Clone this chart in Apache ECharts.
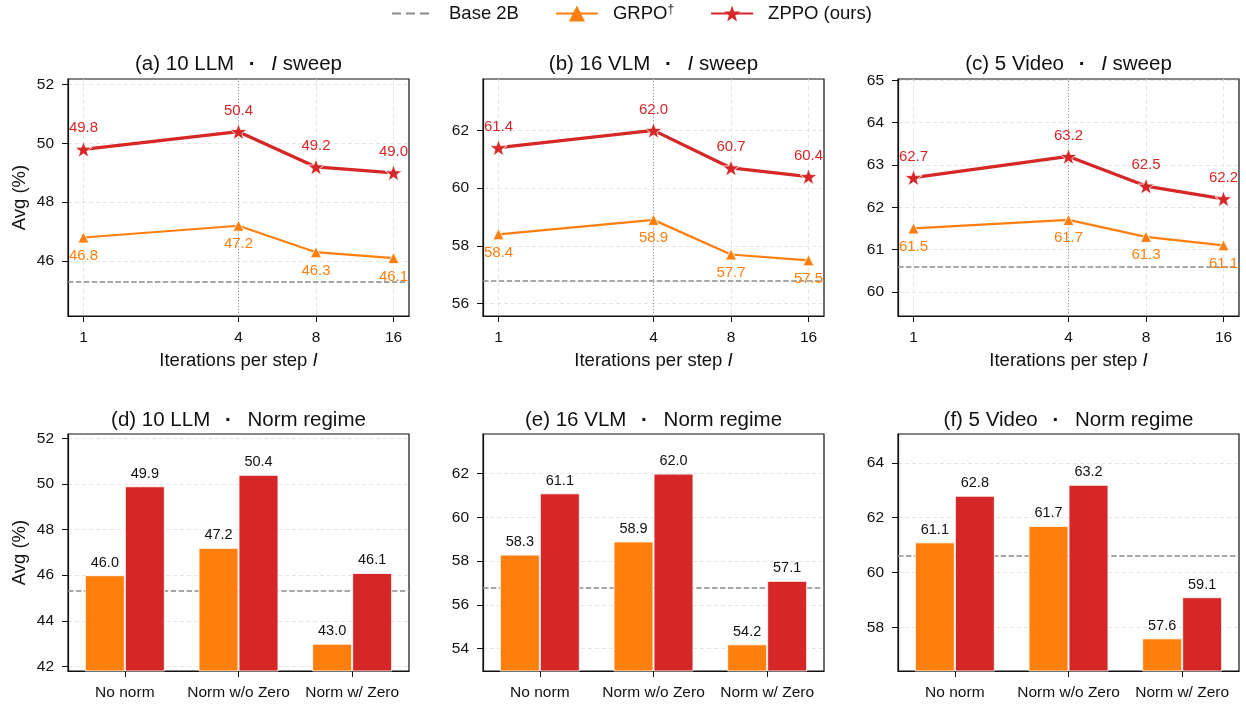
<!DOCTYPE html>
<html><head><meta charset="utf-8">
<script src="https://cdn.jsdelivr.net/npm/echarts@6/dist/echarts.min.js"></script>
<style>html,body{margin:0;padding:0;background:#fff}#c{width:1246px;height:704px}</style>
</head><body><div id="c"></div>
<script>
// ---------------- data ----------------
const iters = [1, 4, 8, 16];
const regimes = ['No norm', 'Norm w/o Zero', 'Norm w/ Zero'];

const sweepGrpoLLM = [46.8, 47.2, 46.3, 46.1];
const sweepZppoLLM = [49.8, 50.4, 49.2, 49.0];
const sweepGrpoVLM = [58.4, 58.9, 57.7, 57.5];
const sweepZppoVLM = [61.4, 62.0, 60.7, 60.4];
const sweepGrpoVideo = [61.5, 61.7, 61.3, 61.1];
const sweepZppoVideo = [62.7, 63.2, 62.5, 62.2];

const normGrpoLLM = [46.0, 47.2, 43.0];
const normZppoLLM = [49.9, 50.4, 46.1];
const normGrpoVLM = [58.3, 58.9, 54.2];
const normZppoVLM = [61.1, 62.0, 57.1];
const normGrpoVideo = [61.1, 61.7, 57.6];
const normZppoVideo = [62.8, 63.2, 59.1];

const baseLLM = 45.3;
const baseVLM = 56.8;
const baseVideo = 60.6;

const yTicksA = [46, 48, 50, 52];
const yTicksB = [56, 58, 60, 62];
const yTicksC = [60, 61, 62, 63, 64, 65];
const yTicksD = [42, 44, 46, 48, 50, 52];
const yTicksE = [54, 56, 58, 60, 62];
const yTicksF = [58, 60, 62, 64];

// ---------------- styling / layout ----------------
const FONT = 'Liberation Sans, Arial, sans-serif';
const RED = '#d62728', ORANGE = '#ff7f0e', GRAY = '#8c8c8c', INK = '#111';
const STAR = 'path://M0,-10L2.35,-3.24L9.51,-3.09L3.8,1.24L5.88,8.09L0,4.05L-5.88,8.09L-3.8,1.24L-9.51,-3.09L-2.35,-3.24Z';

const lefts = [68, 483, 898];
const W = 341, H = 237;
const tops = [79, 434];

const panels = [
  {pre: '(a) 10 LLM', post: '{i|I} sweep', kind: 'line', g: sweepGrpoLLM, z: sweepZppoLLM, base: baseLLM, y: [44.13, 52.19], ticks: yTicksA},
  {pre: '(b) 16 VLM', post: '{i|I} sweep', kind: 'line', g: sweepGrpoVLM, z: sweepZppoVLM, base: baseVLM, y: [55.57, 63.78], ticks: yTicksB},
  {pre: '(c) 5 Video', post: '{i|I} sweep', kind: 'line', g: sweepGrpoVideo, z: sweepZppoVideo, base: baseVideo, y: [59.43, 65.03], ticks: yTicksC},
  {pre: '(d) 10 LLM', post: 'Norm regime', kind: 'bar', g: normGrpoLLM, z: normZppoLLM, base: baseLLM, y: [41.8, 52.19], ticks: yTicksD},
  {pre: '(e) 16 VLM', post: 'Norm regime', kind: 'bar', g: normGrpoVLM, z: normZppoVLM, base: baseVLM, y: [52.98, 63.81], ticks: yTicksE},
  {pre: '(f) 5 Video', post: 'Norm regime', kind: 'bar', g: normGrpoVideo, z: normZppoVideo, base: baseVideo, y: [56.41, 65.05], ticks: yTicksF}
];

const grids = [], xAxes = [], yAxes = [], series = [], graphics = [];
const gridLine = {show: true, lineStyle: {color: '#e0e0e0', width: 0.8, type: [4, 3]}};
const tickStyle = {color: INK, width: 1};

panels.forEach((p, i) => {
  const row = i < 3 ? 0 : 1, col = i % 3;
  const left = lefts[col], top = tops[row];
  grids.push({left: left, top: top, width: W, height: H, show: true, borderColor: INK, borderWidth: 1.2, backgroundColor: 'transparent', containLabel: false});

  if (p.kind === 'line') {
    xAxes.push({
      type: 'log', logBase: 2, gridIndex: i, min: Math.pow(2, -0.2), max: Math.pow(2, 4.2),
      axisLine: {show: true, lineStyle: {color: INK, width: 1.2}},
      axisTick: {show: true, length: 6, lineStyle: tickStyle, customValues: iters},
      axisLabel: {show: true, customValues: iters, fontSize: 15.5, color: INK, fontFamily: FONT, margin: 14, formatter: v => String(Math.round(v))},
      splitLine: gridLine, minorTick: {show: false}, minorSplitLine: {show: false}
    });
  } else {
    xAxes.push({
      type: 'category', gridIndex: i, data: regimes,
      axisLine: {show: true, lineStyle: {color: INK, width: 1.2}},
      axisTick: {show: true, length: 6, alignWithLabel: true, lineStyle: tickStyle},
      axisLabel: {fontSize: 15.5, color: INK, fontFamily: FONT, margin: 14, interval: 0},
      splitLine: {show: false}
    });
  }
  yAxes.push({
    type: 'value', gridIndex: i, min: p.y[0], max: p.y[1],
    axisLine: {show: true, lineStyle: {color: INK, width: 1.2}},
    axisTick: {show: true, length: 6, lineStyle: tickStyle, customValues: p.ticks},
    axisLabel: {customValues: p.ticks, fontSize: 15.5, color: INK, fontFamily: FONT, margin: 14, formatter: v => String(Math.round(v))},
    splitLine: gridLine
  });

  const baseMark = {
    silent: true, symbol: ['none', 'none'], label: {show: false}, z: 1,
    data: [{yAxis: p.base, lineStyle: {color: GRAY, width: 1.5, type: [5.5, 2.4]}}]
  };
  if (p.kind === 'line') {
    baseMark.data.push({xAxis: 4, lineStyle: {color: '#9a9a9a', width: 1, type: [1, 2]}});
    series.push({
      name: 'GRPO†', type: 'line', xAxisIndex: i, yAxisIndex: i, z: 3,
      data: iters.map((x, k) => [x, p.g[k]]),
      symbol: 'triangle', symbolSize: 11,
      lineStyle: {color: ORANGE, width: 2.2}, itemStyle: {color: ORANGE, borderColor: '#fff', borderWidth: 0.8},
      label: {show: true, position: 'bottom', distance: 5, color: ORANGE, fontSize: 15, fontFamily: FONT, formatter: d => d.value[1].toFixed(1)},
      markLine: baseMark, emphasis: {disabled: true}
    });
    series.push({
      name: 'ZPPO (ours)', type: 'line', xAxisIndex: i, yAxisIndex: i, z: 4,
      data: iters.map((x, k) => [x, p.z[k]]),
      symbol: STAR, symbolSize: 17, symbolKeepAspect: true,
      lineStyle: {color: RED, width: 3.3}, itemStyle: {color: RED, borderColor: '#fff', borderWidth: 0.8},
      label: {show: true, position: 'top', distance: 5, color: RED, fontSize: 15, fontFamily: FONT, formatter: d => d.value[1].toFixed(1)},
      emphasis: {disabled: true}
    });
  } else {
    const lab = {show: true, position: 'top', distance: 5, color: INK, fontSize: 14.5, fontFamily: FONT, formatter: d => d.value.toFixed(1)};
    series.push({
      name: 'GRPO†', type: 'bar', xAxisIndex: i, yAxisIndex: i, z: 3, data: p.g,
      barWidth: 40, barGap: '0%', itemStyle: {color: ORANGE, borderColor: 'rgba(255,255,255,0.85)', borderWidth: 1},
      label: lab, markLine: baseMark, emphasis: {disabled: true}
    });
    series.push({
      name: 'ZPPO (ours)', type: 'bar', xAxisIndex: i, yAxisIndex: i, z: 3, data: p.z,
      barWidth: 40, barGap: '0%', itemStyle: {color: RED, borderColor: 'rgba(255,255,255,0.85)', borderWidth: 1},
      label: lab, emphasis: {disabled: true}
    });
  }

  // titles
  const tf = {fontSize: 20.5, fontFamily: FONT, fill: INK};
  graphics.push({
    type: 'text', x: left + W / 2, y: row === 0 ? 64 : 420, silent: true,
    style: Object.assign({text: p.pre + ' {d|·} ' + p.post, align: 'center', verticalAlign: 'middle',
      rich: {i: Object.assign({fontStyle: 'italic'}, tf), d: Object.assign({fontWeight: 'bold', padding: [0, 10, 0, 9]}, tf)}}, tf)
  });
  if (row === 0) {
    graphics.push({
      type: 'text', x: left + W / 2, y: 361, silent: true,
      style: {text: 'Iterations per step {i|I}', align: 'center', verticalAlign: 'middle', fill: INK, fontSize: 18.5, fontFamily: FONT,
        rich: {i: {fontStyle: 'italic', fontSize: 18.5, fontFamily: FONT, fill: INK}}}
    });
  }
  if (col === 0) {
    graphics.push({
      type: 'text', x: 20, y: top + H / 2, rotation: Math.PI / 2, silent: true,
      style: {text: 'Avg (%)', align: 'center', verticalAlign: 'middle', fill: INK, fontSize: 18.5, fontFamily: FONT}
    });
  }
});

// legend-only series for the baseline
series.push({
  name: 'Base 2B', type: 'line', xAxisIndex: 0, yAxisIndex: 0, data: [], symbol: 'none',
  lineStyle: {color: GRAY, width: 2.2, type: [9, 5]}, itemStyle: {color: GRAY}
});

const chart = echarts.init(document.getElementById('c'), null, {renderer: 'canvas'});
chart.setOption({
  animation: false,
  backgroundColor: '#fff',
  textStyle: {fontFamily: FONT},
  legend: {
    left: 391, top: 4, padding: 0, itemWidth: 42, itemHeight: 20, itemGap: 36, selectedMode: false,
    itemStyle: {borderWidth: 0},
    data: [
      {name: 'Base 2B', itemStyle: {color: 'rgba(0,0,0,0)', borderColor: 'rgba(0,0,0,0)', borderWidth: 0}},
      {name: 'GRPO†'},
      {name: 'ZPPO (ours)'}
    ],
    formatter: n => n === 'GRPO†' ? 'GRPO{s|†}' : n,
    textStyle: {fontSize: 18.5, color: INK, fontFamily: FONT, padding: [0, 0, 0, 10],
      rich: {s: {fontSize: 12, verticalAlign: 'top', color: INK, fontFamily: FONT}}}
  },
  grid: grids, xAxis: xAxes, yAxis: yAxes, series: series, graphic: graphics
});
</script>
</body></html>
